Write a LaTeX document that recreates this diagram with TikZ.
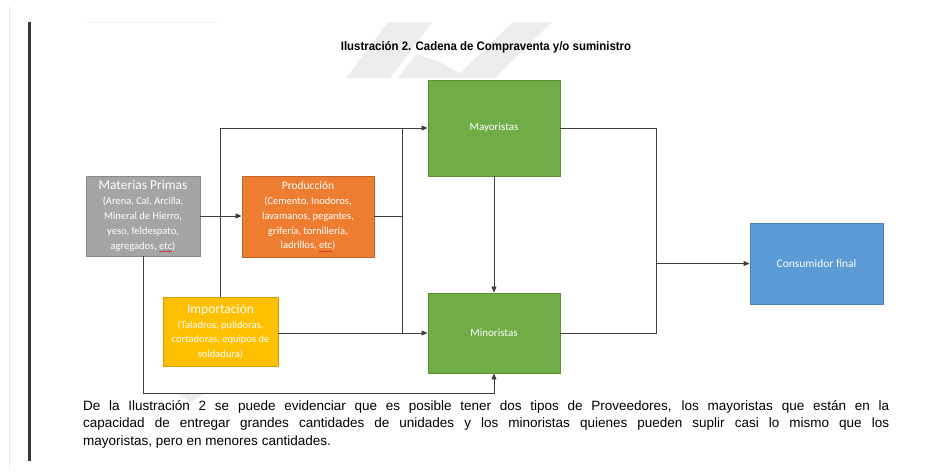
\documentclass[tikz,border=0pt]{standalone}
\usepackage{fontspec}
\usepackage{graphicx}
\setmainfont{Liberation Sans}
\newfontfamily\boxfont{Carlito}
\usetikzlibrary{arrows.meta}
\definecolor{cgray}{HTML}{A5A5A5}\definecolor{cgrayd}{HTML}{8A8A8A}
\definecolor{corange}{HTML}{ED7D31}\definecolor{coranged}{HTML}{C0652A}
\definecolor{cyellow}{HTML}{FFC000}\definecolor{cyellowd}{HTML}{D09E00}
\definecolor{cgreen}{HTML}{70AD47}\definecolor{cgreend}{HTML}{5A8F38}
\definecolor{cblue}{HTML}{5B9BD5}\definecolor{cblued}{HTML}{4A80B4}
\definecolor{lineg}{HTML}{3F3F3F}
\definecolor{wm}{HTML}{EDEDED}
\definecolor{spell}{HTML}{E03030}
\newcommand\spellmark[1]{\setbox0\hbox{#1}\rlap{\textcolor{spell}{\rule[-2.3pt]{\wd0}{0.6pt}}}\box0}
\tikzset{
  blk/.style={draw, line width=0.9pt, inner sep=0pt, align=center, text=white,
    font=\boxfont\fontsize{10.5}{14.8}\selectfont},
  conn/.style={draw=lineg, line width=0.8pt},
  arr/.style={conn, -{Triangle[length=6pt,width=5pt]}},
}
\begin{document}
\begin{tikzpicture}[x=1pt,y=-1pt]
\useasboundingbox (0,0) rectangle (943,475);
\fill[white] (0,0) rectangle (943,475);
% page decorations
\draw[color=black!8, line width=0.6pt] (9,6) -- (9,470);
\fill[color=black!78] (27.5,22) rectangle (30.5,461);
\draw[color=blue!10!black!5, line width=1pt] (85,22) -- (217,22);
% watermark
\fill[wm] (388,22) -- (432,22) -- (390,78) -- (346,78) -- cycle;
\fill[wm] (513,22) -- (552,22) -- (495,78) -- (455,78) -- cycle;
\fill[wm] (398,78) -- (416,54) -- (440,62) -- (468,78) -- cycle;
\fill[wm] (176,393) -- (206,393) -- (191,402) -- cycle;
% title
\node (title) at (486,47) {\scalebox{0.93}[1]{\fontsize{12.3}{14}\selectfont\bfseries Ilustración 2. Cadena de Compraventa y/o suministro}};
% boxes
\node[blk, fill=cgray, draw=cgrayd, minimum width=114pt, minimum height=80pt] (mat) at (143,216)
  {{\fontsize{13.5}{15}\selectfont Materias Primas}\\(Arena, Cal, Arcilla,\\Mineral de Hierro,\\yeso, feldespato,\\agregados, \spellmark{etc})};
\node[blk, fill=corange, draw=coranged, minimum width=132pt, minimum height=81pt] (prod) at (308,216.5)
  {{\fontsize{11.5}{14}\selectfont Producción}\\(Cemento, Inodoros,\\lavamanos, pegantes,\\grifería, tornillería,\\ladrillos, \spellmark{etc})};
\node[blk, fill=cyellow, draw=cyellowd, minimum width=115pt, minimum height=69pt] (imp) at (220.5,331.5)
  {{\fontsize{13.5}{16}\selectfont Importación}\\(Taladros, pulidoras,\\cortadoras, equipos de\\soldadura)};
\node[blk, fill=cgreen, draw=cgreend, minimum width=132pt, minimum height=96pt, font=\boxfont\fontsize{11}{13}\selectfont] (may) at (494,128) {Mayoristas};
\node[blk, fill=cgreen, draw=cgreend, minimum width=132pt, minimum height=80pt, font=\boxfont\fontsize{11}{13}\selectfont] (min) at (494,333) {Minoristas};
\node[blk, fill=cblue, draw=cblued, minimum width=133pt, minimum height=81pt, font=\boxfont\fontsize{11.5}{13}\selectfont] (cons) at (816.5,263.5) {Consumidor final};
% junction coordinates
\coordinate (jx) at (402,0);
\coordinate (jc) at (656,0);
\coordinate (jb) at (0,393);
% connectors
\draw[arr] (mat.east) -- (mat.east -| prod.west);
\draw[arr] (imp.north) -- (imp.north |- may.west) -- (may.west);
\draw[conn] (prod.east) -- (prod.east -| jx);
\draw[conn] (jx |- may.west) -- (jx |- min.west);
\draw[arr] (imp.east |- min.west) -- (min.west);
\draw[arr] (may.south) -- (min.north);
\draw[arr] (mat.south) -- (mat.south |- jb) -- (min.south |- jb) -- (min.south);
\draw[conn] (may.east) -- (jc |- may.east) -- (jc |- min.east) -- (min.east);
\draw[arr] (jc |- cons.west) -- (cons.west);
% paragraph
\node[anchor=north west, inner sep=0pt, text width=806pt, align=justify, font=\fontsize{13.5}{17.5}\selectfont] (para) at (83,400)
  {De la Ilustración 2 se puede evidenciar que es posible tener dos tipos de Proveedores, los mayoristas que están en la\linebreak capacidad de entregar grandes cantidades de unidades y los minoristas quienes pueden suplir casi lo mismo que los\linebreak mayoristas, pero en menores cantidades.};
\end{tikzpicture}
\end{document}
